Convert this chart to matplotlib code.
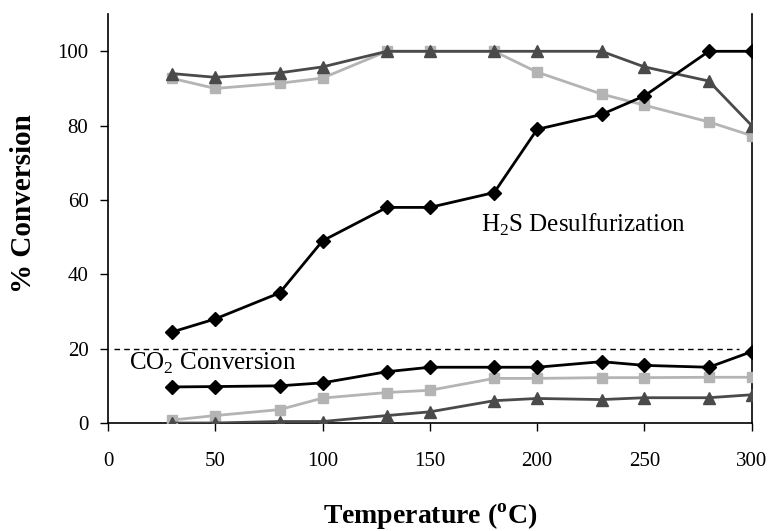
import matplotlib
matplotlib.use("Agg")
import matplotlib.pyplot as plt

temps = [30, 50, 80, 100, 130, 150, 180, 200, 230, 250, 280, 300]
h2s_desulf = [24.5, 28, 35, 49, 58, 58, 62, 79, 83, 88, 100, 100]
h2s_grey = [92.7, 90, 91.4, 92.8, 100, 100, 100, 94.4, 88.5, 85.5, 81, 77.3]
h2s_dark = [94, 93, 94.2, 95.8, 100, 100, 100, 100, 100, 95.8, 92, 80]
co2_black = [9.7, 9.8, 10, 10.8, 13.8, 15, 15, 15, 16.5, 15.5, 15, 19.2]
co2_grey = [0.8, 2.0, 3.6, 6.7, 8.2, 8.8, 12, 12, 12.2, 12.2, 12.3, 12.3]
co2_dark = [0, 0, 0.4, 0.4, 2.0, 3.0, 6.0, 6.6, 6.3, 6.8, 6.8, 7.6]
threshold = 20
xticks = [0, 50, 100, 150, 200, 250, 300]
yticks = [0, 20, 40, 60, 80, 100]

plt.rcParams['font.family'] = ['Liberation Serif', 'DejaVu Serif']
plt.rcParams['mathtext.fontset'] = 'custom'
plt.rcParams['mathtext.rm'] = 'Liberation Serif'
plt.rcParams['mathtext.bf'] = 'Liberation Serif:bold'
fig = plt.figure(figsize=(7.71, 5.31), dpi=100)
ax = fig.add_axes([0.140, 0.2034, 0.835, 0.770])

black = '#000000'
lgrey = '#b4b4b4'
dgrey = '#4a4a4a'

ax.plot(temps, h2s_grey, color=lgrey, marker='s', ms=7, lw=2, zorder=3)
ax.plot(temps, h2s_dark, color=dgrey, marker='^', ms=8, lw=2, zorder=3)
ax.plot(temps, h2s_desulf, color=black, marker='D', ms=7.5, lw=2, zorder=4)
ax.plot(temps, co2_grey, color=lgrey, marker='s', ms=7, lw=2, zorder=3)
ax.plot(temps, co2_dark, color=dgrey, marker='^', ms=8, lw=2, zorder=3)
ax.plot(temps, co2_black, color=black, marker='D', ms=7.5, lw=2, zorder=4)

ax.plot([3, 294], [threshold, threshold], color='black', lw=1, ls=(0, (4, 3)))

ax.text(174, 53.3, r'H$_2$S Desulfurization', fontsize=18, ha='left', va='center')
ax.text(10, 16.0, r'CO$_2$ Conversion', fontsize=18, ha='left', va='center')

ax.set_xlim(0, 300)
ax.set_ylim(0, 110)
ax.set_xticks(xticks)
ax.set_yticks(yticks)
ax.tick_params(axis='both', direction='out', length=6, width=1, labelsize=15, colors='black')
ax.tick_params(axis='x', pad=15)
ax.tick_params(axis='y', pad=8)
ax.spines['top'].set_visible(False)
for s in ['left', 'bottom', 'right']:
    ax.spines[s].set_linewidth(1.2)

fig.text(430 / 771, 1 - 517 / 531, 'Temperature ($^{\\mathbf{o}}$C)', fontsize=20,
         fontweight='bold', ha='center', va='center')
fig.text(24 / 771, 1 - 204 / 531, '% Conversion', fontsize=21, fontweight='bold',
         ha='center', va='center', rotation=90)

fig.savefig('out.png', dpi=100)
